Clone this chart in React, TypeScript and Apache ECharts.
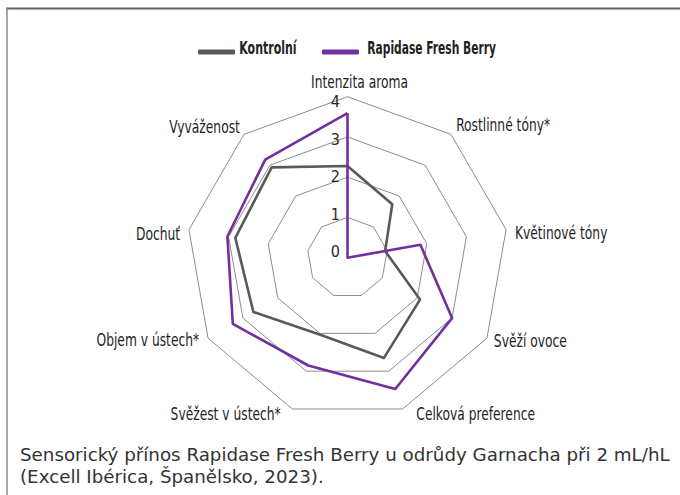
import React, { useEffect, useRef } from "react";
import * as echarts from "echarts";

const categories = [
  "Intenzita aroma",
  "Rostlinné tóny*",
  "Květinové tóny",
  "Svěží ovoce",
  "Celková preference",
  "Svěžest v ústech*",
  "Objem v ústech*",
  "Dochuť",
  "Vyváženost",
];
const kontrolni = [2.28, 1.73, 0.95, 2.08, 2.65, 2.03, 2.7, 2.83, 2.93];
const rapidase = [3.59, 0, 1.84, 3.0, 3.47, 2.85, 3.29, 3.03, 3.18];
const seriesNames = ["Kontrolní", "Rapidase Fresh Berry"];
const seriesColors = ["#595959", "#7030a0"];
const tickLabels = ["0", "1", "2", "3", "4"];
const captionLines = [
  "Sensorický přínos Rapidase Fresh Berry u odrůdy Garnacha při 2 mL/hL",
  "(Excell Ibérica, Španělsko, 2023).",
];

// layout (not data): small label nudges per axis, in px
const nameNudgeX = [12, 0, 1, 0, 11, -9, -2, -1, 1];
const nameNudgeY = [-6.5, -3, 5, -1.5, -2.5, -2.5, -2, 5.5, -1];

const COND = "'DejaVu Sans Condensed', 'DejaVu Sans', sans-serif";

// ECharts radar places indicators counter-clockwise; reorder to get clockwise layout
const order = [0, ...Array.from({ length: categories.length - 1 }, (_, i) => categories.length - 1 - i)];

export default function App() {
  const ref = useRef<HTMLDivElement>(null);
  useEffect(() => {
    document.body.style.margin = "0";
    const chart = echarts.init(ref.current!, null, { renderer: "svg" });
    const cx = 347.5;
    const cy = 257.7;
    const R = 161;
    const gap = 8;
    const n = categories.length;

    const nameTexts = categories.map((name, i) => {
      const ang = ((90 - (i * 360) / n) * Math.PI) / 180;
      const c = Math.cos(ang);
      const s = Math.sin(ang);
      const align = c > 0.05 ? "left" : c < -0.05 ? "right" : "center";
      return {
        type: "text",
        x: cx + (R + gap) * c + nameNudgeX[i],
        y: cy - (R + gap) * s + nameNudgeY[i],
        scaleX: 0.78,
        style: {
          text: name,
          align,
          verticalAlign: "middle",
          fontFamily: COND,
          fontSize: 17.5,
          fill: "#1e1e1e",
        },
      };
    });

    chart.setOption({
      animation: false,
      backgroundColor: "#ffffff",
      legend: {
        top: 44.5,
        left: 193,
        itemWidth: 37,
        itemHeight: 5,
        itemGap: 87,
        icon: "roundRect",
        formatter: () => "",
        textStyle: { fontSize: 4 },
        data: seriesNames,
      },
      radar: {
        center: [cx, cy],
        radius: R,
        shape: "polygon",
        splitNumber: 4,
        startAngle: 90,
        indicator: order.map((i) => ({ name: categories[i], min: 0, max: 4 })),
        axisName: { show: false },
        axisLine: { show: false },
        axisTick: { show: false },
        axisLabel: { show: false },
        splitArea: { show: false },
        splitLine: { lineStyle: { color: "#8c8c8c", width: 1 } },
      },
      grid: { left: 341, width: 1, top: 101.7, height: 150 },
      xAxis: { type: "value", show: false },
      yAxis: {
        type: "category",
        data: tickLabels,
        boundaryGap: false,
        position: "left",
        axisLine: { show: false },
        axisTick: { show: false },
        splitLine: { show: false },
        axisLabel: { margin: 1, fontFamily: COND, fontSize: 16, color: "#2a2a2a" },
      },
      graphic: [
        { type: "line", shape: { x1: 6, y1: 8.5, x2: 680, y2: 8.5 }, style: { stroke: "#5d6868", lineWidth: 2 } },
        { type: "line", shape: { x1: 7, y1: 8, x2: 7, y2: 495 }, style: { stroke: "#8a8f8f", lineWidth: 1.5 } },
        {
          type: "text",
          x: 239.3,
          y: 48,
          scaleX: 0.68,
          style: {
            text: seriesNames[0],
            verticalAlign: "middle",
            fontFamily: COND,
            fontWeight: "bold",
            fontSize: 18,
            fill: "#222",
          },
        },
        {
          type: "text",
          x: 367.3,
          y: 48,
          scaleX: 0.66,
          style: {
            text: seriesNames[1],
            verticalAlign: "middle",
            fontFamily: COND,
            fontWeight: "bold",
            fontSize: 18,
            fill: "#222",
          },
        },
        ...nameTexts,
        {
          type: "text",
          x: 20,
          y: 444.5,
          scaleX: 1.075,
          style: {
            text: captionLines.join("\n"),
            fontFamily: "'DejaVu Sans', sans-serif",
            fontSize: 17,
            lineHeight: 22,
            fill: "#333",
          },
        },
      ],
      series: [
        {
          type: "radar",
          symbol: "none",
          data: [
            {
              name: seriesNames[0],
              value: order.map((i) => kontrolni[i]),
              lineStyle: { color: seriesColors[0], width: 2.6 },
              itemStyle: { color: seriesColors[0] },
            },
            {
              name: seriesNames[1],
              value: order.map((i) => rapidase[i]),
              lineStyle: { color: seriesColors[1], width: 2.6 },
              itemStyle: { color: seriesColors[1] },
            },
          ],
        },
      ],
    });
    return () => chart.dispose();
  }, []);
  return <div ref={ref} style={{ width: 680, height: 495 }} />;
}
